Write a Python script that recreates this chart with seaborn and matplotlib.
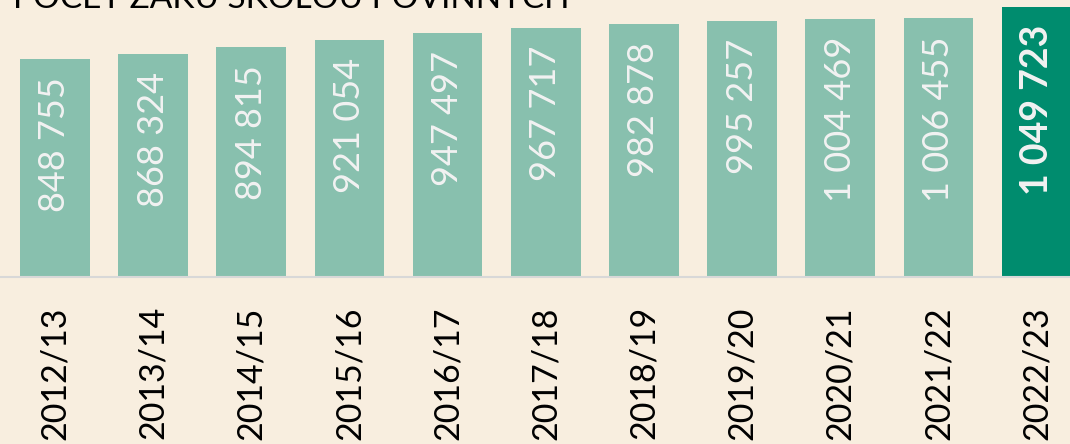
import pandas as pd
import matplotlib.pyplot as plt
import seaborn as sns

# Data
years = ['2012/13', '2013/14', '2014/15', '2015/16', '2016/17', '2017/18',
         '2018/19', '2019/20', '2020/21', '2021/22', '2022/23']
pupils = [848755, 868324, 894815, 921054, 947497, 967717,
          982878, 995257, 1004469, 1006455, 1049723]
title = 'POČET ŽÁKŮ ŠKOLOU POVINNÝCH'

bg = '#f8eedf'
light = '#88c0ae'
dark = '#008c6e'

sns.set_theme(style='white')
plt.rcParams['font.family'] = ['Lato', 'DejaVu Sans']

df = pd.DataFrame({'year': years, 'pupils': pupils})
colors = [light] * (len(years) - 1) + [dark]

fig = plt.figure(figsize=(10.7, 4.44), dpi=100, facecolor=bg)
ax = fig.add_axes([0, 1 - 277 / 444, 1, 270 / 444])
ax.set_facecolor(bg)

sns.barplot(data=df, x='year', y='pupils', hue='year', palette=colors,
            legend=False, width=0.71, saturation=1, linewidth=0, ax=ax)

ax.set_xlim(-0.56, 10.34)
ax.set_ylim(0, max(pupils))
ax.set_xlabel('')
ax.set_ylabel('')
ax.set_yticks([])
for s in ['top', 'right', 'left']:
    ax.spines[s].set_visible(False)
ax.spines['bottom'].set_color('#d8d8d8')
ax.spines['bottom'].set_linewidth(1.5)
ax.tick_params(axis='x', labelrotation=90, labelsize=24.5, pad=21, length=0,
               labelcolor='black')

# value labels inside bars
for i, v in enumerate(pupils):
    txt = f'{v:,}'.replace(',', ' ')
    last = i == len(pupils) - 1
    ax.annotate(txt, (i, v), xytext=(0, -18), textcoords='offset pixels',
                rotation=90, ha='center', va='top',
                fontsize=26 if not last else 27,
                color='#f2f2f2', fontweight='bold' if last else 'normal')

fig.text(0.012, 1 - 8 / 444, title, fontsize=24, ha='left', va='baseline',
         color='black')

fig.savefig('out.png', dpi=100, facecolor=bg)
